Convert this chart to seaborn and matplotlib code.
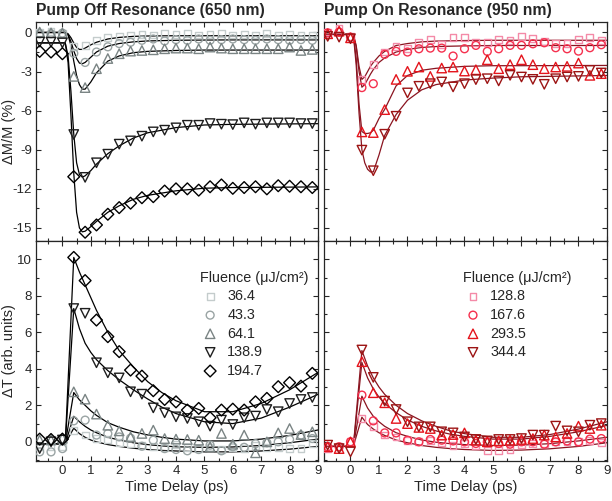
import matplotlib
matplotlib.use("Agg")
import matplotlib.pyplot as plt
import numpy as np
import pandas as pd
import seaborn as sns
from matplotlib.ticker import MultipleLocator

# measured points, time delay (ps)
delay = [-0.8, -0.4, 0.0, 0.4, 0.8, 1.2, 1.6, 2.0, 2.4, 2.8, 3.2, 3.6, 4.0,
         4.4, 4.8, 5.2, 5.6, 6.0, 6.4, 6.8, 7.2, 7.6, 8.0, 8.4, 8.8]

off_labels = ["36.4", "43.3", "64.1", "138.9", "194.7"]
on_labels = ["128.8", "167.6", "293.5", "344.4"]

# pump off resonance, dM/M (%)
off_dm_364 = [0.0, 0.05, -0.05, -1.1, -1.0, -0.6, -0.4, -0.3, -0.2, -0.15, -0.2, -0.1, -0.15,
              -0.1, -0.2, -0.15, -0.1, -0.2, -0.15, -0.2, -0.1, -0.2, -0.15, -0.2, -0.2]
off_dm_433 = [-0.1, -0.1, -0.05, -1.6, -2.3, -1.5, -1.1, -0.85, -0.75, -0.6, -0.5, -0.65, -0.55,
              -0.6, -0.5, -0.6, -0.55, -0.5, -0.55, -0.6, -0.5, -0.55, -0.6, -0.55, -0.6]
off_dm_641 = [0.03, -0.03, -0.05, -3.37, -4.23, -2.78, -2.0, -1.63, -1.43, -1.38, -1.33, -1.25, -1.2,
              -1.2, -1.25, -1.12, -1.2, -1.25, -1.25, -1.25, -1.25, -1.25, -1.12, -1.38, -1.3]
off_dm_1389 = [-0.74, -0.74, -0.8, -7.83, -11.12, -10.0, -9.34, -8.57, -8.32, -7.96, -7.63, -7.5, -7.32,
               -7.12, -7.12, -6.99, -7.04, -7.07, -6.94, -7.04, -6.94, -6.94, -6.94, -6.99, -6.99]
off_dm_1947 = [-1.45, -1.5, -1.63, -11.07, -15.33, -14.77, -13.95, -13.44, -13.1, -12.68, -12.6, -12.17, -12.0,
               -12.0, -12.1, -11.84, -11.7, -11.96, -11.9, -11.84, -12.0, -11.76, -11.8, -11.84, -11.9]

# pump on resonance, dM/M (%)
on_dm_1288 = [0.03, 0.28, -0.3, -3.62, -2.45, -1.5, -1.07, -1.2, -0.79, -0.56, -0.92, -0.41, -0.41,
              -0.79, -0.79, -0.56, -0.61, -0.28, -0.48, -0.69, -0.87, -0.82, -0.56, -0.41, -0.6]
on_dm_1676 = [-0.03, 0.03, -0.36, -4.23, -3.93, -1.68, -1.45, -1.5, -1.25, -1.2, -1.2, -1.81, -1.25,
              -0.99, -1.45, -1.25, -0.99, -0.99, -0.87, -0.79, -1.17, -1.25, -1.43, -1.17, -0.94]
on_dm_2935 = [-0.1, 0.1, -0.41, -7.63, -7.68, -5.92, -3.6, -2.98, -2.65, -3.37, -2.73, -2.65, -2.96,
              -2.86, -2.09, -2.78, -2.47, -2.09, -2.47, -2.78, -2.65, -2.6, -2.35, -3.29, -3.16]
on_dm_3444 = [-0.3, -0.36, -0.48, -9.03, -10.61, -7.81, -6.43, -4.64, -4.13, -3.93, -3.8, -4.18, -3.93,
              -3.62, -3.55, -3.72, -3.29, -3.42, -3.6, -3.98, -3.55, -3.42, -3.37, -2.91, -3.11]

# pump off resonance, dT (arb. units)
off_dt_364 = [-0.27, -0.24, -0.27, 0.64, 0.37, 0.2, 0.13, -0.05, -0.1, -0.2, -0.25, -0.3, -0.15,
              -0.3, -0.35, -0.3, -0.4, -0.3, -0.35, -0.2, -0.3, -0.3, -0.35, -0.37, -0.1]
off_dt_433 = [-0.55, -0.55, -0.37, 1.15, 1.19, 0.37, 0.45, 0.27, 0.2, -0.24, 0.09, -0.37, -0.42,
              -0.49, -0.42, -0.18, -0.49, -0.27, -0.3, -0.1, -0.05, 0.0, 0.13, 0.37, 0.18]
off_dt_641 = [0.1, 0.1, 0.2, 2.74, 2.34, 1.52, 0.91, 0.6, 0.27, 0.46, 0.64, 0.18, 0.15,
              0.13, 0.09, -0.27, 0.46, -0.13, 0.37, -0.6, 0.0, 0.49, 0.73, 0.4, 0.55]
off_dt_1389 = [-0.37, 0.0, 0.1, 7.3, 7.04, 4.33, 3.78, 3.5, 2.74, 2.61, 1.86, 1.59, 1.37,
               1.28, 1.1, 0.86, 1.19, 0.95, 1.32, 1.41, 1.77, 1.65, 2.1, 2.32, 2.43]
off_dt_1947 = [0.15, 0.13, 0.15, 10.1, 8.83, 6.67, 5.76, 4.94, 3.93, 3.6, 2.8, 2.32, 2.19,
               1.74, 1.83, 1.32, 1.74, 1.79, 1.74, 2.19, 2.38, 3.02, 3.24, 3.05, 3.75]

# pump on resonance, dT (arb. units)
on_dt_1288 = [-0.37, -0.24, 0.0, 1.28, 0.82, 0.37, 0.27, 0.09, 0.0, 0.09, -0.05, -0.18, -0.09,
              -0.18, -0.49, -0.49, -0.42, -0.13, -0.09, -0.09, 0.0, 0.0, 0.0, 0.09, -0.05]
on_dt_1676 = [-0.27, -0.27, 0.0, 2.56, 1.15, 0.49, 0.49, 0.09, 0.0, 0.13, 0.09, 0.05, 0.0,
              -0.09, 0.0, -0.09, -0.13, 0.0, 0.0, -0.13, 0.0, 0.05, 0.0, 0.15, 0.18]
on_dt_2935 = [-0.27, -0.37, 0.0, 4.39, 2.69, 2.14, 1.28, 1.0, 0.79, 0.73, 0.37, 0.4, 0.49,
              0.09, 0.0, 0.05, 0.09, 0.13, 0.18, 0.37, 0.27, 0.46, 0.86, 0.73, 0.91]
on_dt_3444 = [-0.18, -0.37, -0.55, 5.03, 3.53, 2.23, 1.77, 1.1, 0.82, 0.82, 0.55, 0.49, 0.27,
              0.13, 0.05, 0.13, 0.13, 0.18, 0.37, 0.37, 0.86, 0.6, 0.55, 0.91, 1.0]

# fit curves
fit_t_dm = [-0.93, 0.1, 0.2, 0.3, 0.4, 0.5, 0.6, 0.7, 0.8, 1.0, 1.2, 1.6, 2.0, 2.5, 3.0, 4.0, 5.0, 6.0, 9.0]
fit_off_dm = [
    [0, 0, -0.1, -0.4, -0.8, -1.15, -1.3, -1.3, -1.2, -0.95, -0.75, -0.5, -0.38, -0.3, -0.27, -0.25, -0.25, -0.25, -0.25],
    [0, 0, -0.15, -0.7, -1.4, -2.0, -2.35, -2.4, -2.3, -1.9, -1.5, -1.05, -0.85, -0.72, -0.65, -0.6, -0.58, -0.57, -0.57],
    [0, 0, -0.2, -1.0, -2.2, -3.3, -4.0, -4.35, -4.35, -3.8, -3.1, -2.2, -1.8, -1.55, -1.45, -1.38, -1.35, -1.35, -1.35],
    [-0.8, -0.8, -1.8, -4.5, -7.8, -10.0, -10.9, -11.1, -11.0, -10.6, -10.1, -9.3, -8.7, -8.1, -7.7, -7.3, -7.1, -7.05, -7.0],
    [-0.8, -0.8, -2.3, -6.3, -10.8, -13.8, -15.0, -15.3, -15.25, -14.9, -14.5, -13.8, -13.3, -12.8, -12.5, -12.15, -11.95, -11.9, -11.85],
]
fit_on_dm = [
    [-0.15, -0.15, -1.0, -2.6, -3.6, -3.4, -3.0, -2.6, -2.3, -1.8, -1.45, -1.0, -0.85, -0.72, -0.66, -0.62, -0.6, -0.6, -0.6],
    [-0.15, -0.15, -1.1, -3.0, -4.2, -4.0, -3.6, -3.2, -2.85, -2.3, -1.95, -1.5, -1.3, -1.15, -1.08, -1.03, -1.0, -1.0, -1.0],
    [-0.15, -0.15, -2.0, -5.5, -7.6, -7.75, -7.75, -7.7, -7.5, -6.6, -5.9, -4.1, -3.3, -2.9, -2.75, -2.6, -2.55, -2.55, -2.53],
    [-0.15, -0.15, -2.5, -6.2, -9.0, -10.0, -10.5, -10.7, -10.7, -9.4, -7.9, -6.3, -5.2, -4.4, -4.0, -3.65, -3.5, -3.4, -3.3],
]
fit_t_dt = [-0.93, 0.1, 0.4, 0.6, 0.8, 1.0, 1.2, 1.6, 2.0, 2.5, 3.0, 3.5, 4.0, 5.0, 6.0, 7.0, 8.0, 9.0]
fit_off_dt = [
    [-0.1, -0.1, 0.75, 0.45, 0.25, 0.1, 0.0, -0.15, -0.25, -0.35, -0.42, -0.47, -0.5, -0.55, -0.55, -0.5, -0.4, -0.25],
    [-0.1, -0.1, 1.4, 1.1, 0.85, 0.65, 0.5, 0.25, 0.1, -0.05, -0.15, -0.22, -0.27, -0.3, -0.28, -0.2, -0.05, 0.15],
    [-0.1, -0.1, 2.7, 2.3, 2.0, 1.7, 1.45, 1.05, 0.8, 0.55, 0.38, 0.25, 0.15, 0.05, 0.05, 0.15, 0.35, 0.65],
    [-0.1, -0.1, 7.3, 6.2, 5.4, 4.9, 4.5, 3.9, 3.4, 2.85, 2.35, 1.9, 1.55, 1.1, 1.0, 1.3, 1.9, 2.6],
    [-0.1, -0.1, 10.1, 9.3, 8.6, 7.9, 7.2, 6.0, 5.0, 4.1, 3.3, 2.7, 2.25, 1.65, 1.65, 2.1, 2.85, 3.8],
]
fit_on_dt = [
    [-0.25, -0.25, 1.35, 0.95, 0.7, 0.5, 0.35, 0.1, -0.05, -0.2, -0.3, -0.37, -0.42, -0.47, -0.45, -0.38, -0.25, -0.05],
    [-0.25, -0.25, 2.5, 1.85, 1.4, 1.1, 0.85, 0.5, 0.3, 0.1, -0.02, -0.1, -0.15, -0.2, -0.18, -0.1, 0.05, 0.25],
    [-0.25, -0.25, 4.35, 3.5, 2.9, 2.45, 2.1, 1.6, 1.2, 0.85, 0.6, 0.42, 0.3, 0.15, 0.15, 0.3, 0.55, 0.9],
    [-0.25, -0.25, 5.0, 4.15, 3.5, 3.0, 2.6, 2.0, 1.55, 1.15, 0.85, 0.6, 0.45, 0.25, 0.25, 0.4, 0.7, 1.1],
]

off_colors = ["#c4cccc", "#9aa4a4", "#7a8484", "#1e1e1e", "#000000"]
on_colors = ["#f48aa8", "#f5304e", "#e4141c", "#9c1414"]
off_markers = ["s", "o", "^", "v", "D"]
on_markers = ["s", "o", "^", "v"]
marker_sizes = {"s": 24, "o": 32, "^": 46, "v": 46, "D": 36}

sns.set_theme(style="ticks")
plt.rcParams["font.family"] = ["Liberation Sans", "DejaVu Sans"]
plt.rcParams["axes.unicode_minus"] = False
plt.rcParams["axes.linewidth"] = 0.9

fig = plt.figure(figsize=(6.12, 5.01), dpi=100)
ax_tl = fig.add_axes([0.0588, 0.519, 0.4608, 0.437])
ax_tr = fig.add_axes([0.5294, 0.519, 0.4624, 0.437])
ax_bl = fig.add_axes([0.0588, 0.0798, 0.4608, 0.4392])
ax_br = fig.add_axes([0.5294, 0.0798, 0.4624, 0.4392])


def draw_panel(ax, series, fits, fit_t, labels, colors, markers, line_color):
    handles = []
    for vals, fit, lab, col, mk in zip(series, fits, labels, colors, markers):
        sns.lineplot(x=fit_t, y=fit, ax=ax, color=line_color, lw=0.9, zorder=2)
        df = pd.DataFrame({"t": delay, "v": vals})
        sns.scatterplot(data=df, x="t", y="v", ax=ax, marker=mk, s=marker_sizes[mk],
                        facecolor="none", edgecolor=col, linewidth=1.0, zorder=3)
        handles.append(ax.collections[-1])
    return handles


draw_panel(ax_tl, [off_dm_364, off_dm_433, off_dm_641, off_dm_1389, off_dm_1947],
           fit_off_dm, fit_t_dm, off_labels, off_colors, off_markers, "black")
draw_panel(ax_tr, [on_dm_1288, on_dm_1676, on_dm_2935, on_dm_3444],
           fit_on_dm, fit_t_dm, on_labels, on_colors, on_markers, "#8a1420")
h_off = draw_panel(ax_bl, [off_dt_364, off_dt_433, off_dt_641, off_dt_1389, off_dt_1947],
                   fit_off_dt, fit_t_dt, off_labels, off_colors, off_markers, "black")
h_on = draw_panel(ax_br, [on_dt_1288, on_dt_1676, on_dt_2935, on_dt_3444],
                  fit_on_dt, fit_t_dt, on_labels, on_colors, on_markers, "#8a1420")

for ax in [ax_tl, ax_tr, ax_bl, ax_br]:
    ax.set_xlim(-0.93, 9)
    ax.xaxis.set_major_locator(MultipleLocator(1))
    ax.xaxis.set_minor_locator(MultipleLocator(0.5))
    ax.tick_params(which="both", direction="in", top=True, right=True,
                   labelsize=9.5, width=0.8, pad=3)
    ax.tick_params(which="major", length=3.5)
    ax.tick_params(which="minor", length=2)
    ax.set_xlabel("")
    ax.set_ylabel("")

for ax in [ax_tl, ax_tr]:
    ax.set_ylim(-16, 0.8)
    ax.yaxis.set_major_locator(MultipleLocator(3))
    ax.yaxis.set_minor_locator(MultipleLocator(1.5))
    ax.tick_params(labelbottom=False)

for ax in [ax_bl, ax_br]:
    ax.set_ylim(-1.05, 11)
    ax.yaxis.set_major_locator(MultipleLocator(2))
    ax.yaxis.set_minor_locator(MultipleLocator(1))
    ax.set_xlabel("Time Delay (ps)", fontsize=10.5, labelpad=2)

for ax in [ax_tr, ax_br]:
    ax.tick_params(labelleft=False)

ax_tl.set_ylabel("\u0394M/M (%)", fontsize=10.5)
ax_bl.set_ylabel("\u0394T (arb. units)", fontsize=10.5)
ax_tl.yaxis.set_label_coords(-0.07, 0.5)
ax_bl.yaxis.set_label_coords(-0.07, 0.5)
ax_tl.set_title("Pump Off Resonance (650 nm)", loc="left", fontsize=11.3,
                fontweight="bold", pad=5)
ax_tr.set_title("Pump On Resonance (950 nm)", loc="left", fontsize=11.3,
                fontweight="bold", pad=5)

leg_kw = dict(title="Fluence (\u03bcJ/cm\u00b2)", frameon=False, loc="upper left",
              fontsize=10.4, title_fontsize=10.4, alignment="left", borderpad=0,
              borderaxespad=0, handlelength=1.39, handletextpad=0.49, labelspacing=0.32)
ax_bl.legend(h_off, off_labels, bbox_to_anchor=(0.582, 0.865), **leg_kw)
ax_br.legend(h_on, on_labels, bbox_to_anchor=(0.491, 0.865), **leg_kw)

fig.savefig("out.png", dpi=100)
